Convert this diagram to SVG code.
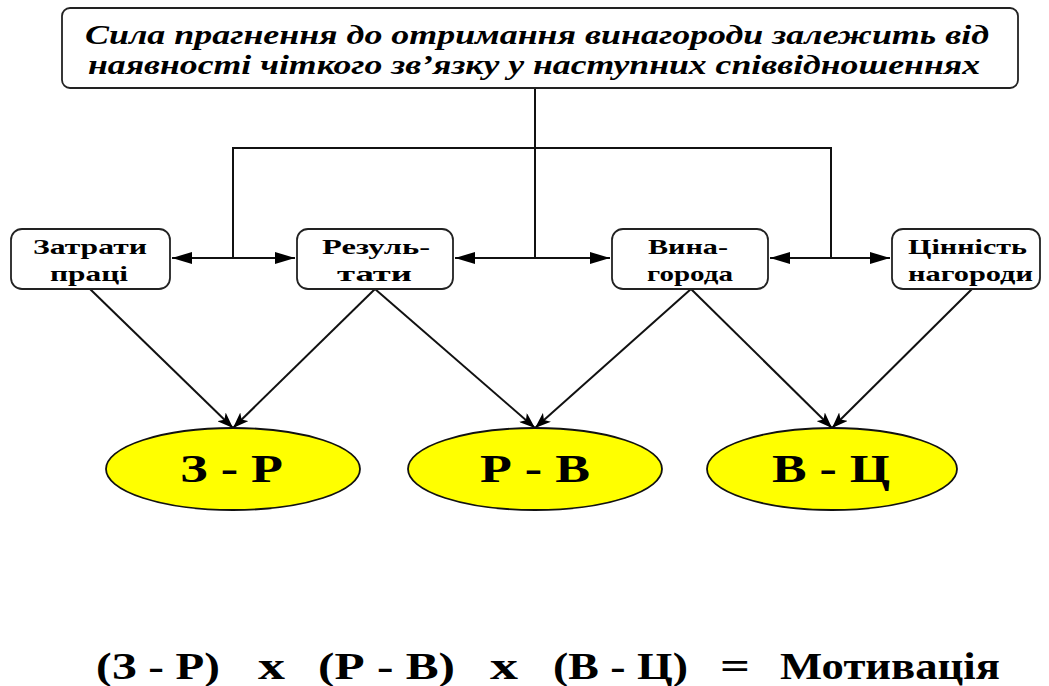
<svg xmlns="http://www.w3.org/2000/svg" width="1049" height="686" viewBox="0 0 1049 686">
  <style>
    .box { fill: #ffffff; stroke: #222222; stroke-width: 1.8; }
    .oval { fill: #ffff00; stroke: #111111; stroke-width: 1.8; }
    .txt { font-family: "Liberation Serif", "Times New Roman", serif; font-weight: bold; fill: #000000; }
    .head { font-style: italic; font-size: 28px; }
    .lbl { font-size: 22px; }
    .big { font-size: 40px; }
    .formula { font-size: 37px; }
    .wire { fill: none; stroke: #111111; stroke-width: 2; }
  </style>
  <defs>
    <marker id="arrow" viewBox="0 0 20 12" refX="20" refY="6" markerWidth="20" markerHeight="12" markerUnits="userSpaceOnUse" orient="auto-start-reverse">
      <path d="M0,0 L20,6 L0,12 Z" fill="#000000"/>
    </marker>
    <marker id="arrowS" viewBox="0 0 16 12" refX="16" refY="6" markerWidth="16" markerHeight="12" markerUnits="userSpaceOnUse" orient="auto">
      <path d="M0,0 L16,6 L0,12 L4,6 Z" fill="#000000"/>
    </marker>
  </defs>

  <!-- connectors -->
  <g id="connectors">
    <path class="wire" d="M535,88 V258"/>
    <path class="wire" d="M233,258 V148 H831 V258"/>
    <line class="wire" x1="172" y1="258" x2="295" y2="258" marker-start="url(#arrow)" marker-end="url(#arrow)"/>
    <line class="wire" x1="455" y1="258" x2="610" y2="258" marker-start="url(#arrow)" marker-end="url(#arrow)"/>
    <line class="wire" x1="770" y1="258" x2="890" y2="258" marker-start="url(#arrow)" marker-end="url(#arrow)"/>
    <line class="wire" x1="90" y1="289" x2="233" y2="428" marker-end="url(#arrowS)"/>
    <line class="wire" x1="375" y1="289" x2="233" y2="428" marker-end="url(#arrowS)"/>
    <line class="wire" x1="375" y1="289" x2="535" y2="428" marker-end="url(#arrowS)"/>
    <line class="wire" x1="691" y1="289" x2="535" y2="428" marker-end="url(#arrowS)"/>
    <line class="wire" x1="691" y1="289" x2="832" y2="428" marker-end="url(#arrowS)"/>
    <line class="wire" x1="972" y1="289" x2="832" y2="428" marker-end="url(#arrowS)"/>
  </g>

  <!-- heading box -->
  <g id="heading">
    <rect class="box" x="62" y="8" width="956" height="80" rx="8"/>
    <text class="txt head" x="85" y="44" textLength="904" lengthAdjust="spacingAndGlyphs">Сила прагнення до отримання винагороди залежить від</text>
    <text class="txt head" x="88" y="74" textLength="892" lengthAdjust="spacingAndGlyphs">наявності чіткого зв’язку у наступних співвідношеннях</text>
  </g>

  <!-- factor boxes -->
  <g id="effort">
    <rect class="box" x="11" y="229" width="159" height="60" rx="11"/>
    <text class="txt lbl" x="33" y="254" textLength="114" lengthAdjust="spacingAndGlyphs">Затрати</text>
    <text class="txt lbl" x="50" y="281" textLength="78" lengthAdjust="spacingAndGlyphs">праці</text>
  </g>
  <g id="results">
    <rect class="box" x="297" y="229" width="156" height="60" rx="11"/>
    <text class="txt lbl" x="322" y="254" textLength="108" lengthAdjust="spacingAndGlyphs">Резуль-</text>
    <text class="txt lbl" x="337" y="281" textLength="75" lengthAdjust="spacingAndGlyphs">тати</text>
  </g>
  <g id="reward">
    <rect class="box" x="612" y="229" width="156" height="60" rx="11"/>
    <text class="txt lbl" x="648" y="254" textLength="80" lengthAdjust="spacingAndGlyphs">Вина-</text>
    <text class="txt lbl" x="647" y="281" textLength="86" lengthAdjust="spacingAndGlyphs">города</text>
  </g>
  <g id="value">
    <rect class="box" x="892" y="229" width="148" height="60" rx="11"/>
    <text class="txt lbl" x="908" y="254" textLength="119" lengthAdjust="spacingAndGlyphs">Цінність</text>
    <text class="txt lbl" x="908" y="281" textLength="125" lengthAdjust="spacingAndGlyphs">нагороди</text>
  </g>

  <!-- relation ovals -->
  <g id="zr">
    <ellipse class="oval" cx="233" cy="469" rx="127" ry="41"/>
    <text class="txt big" x="180" y="482" textLength="103" lengthAdjust="spacingAndGlyphs">З - Р</text>
  </g>
  <g id="rv">
    <ellipse class="oval" cx="535" cy="469" rx="127" ry="41"/>
    <text class="txt big" x="480" y="482" textLength="110" lengthAdjust="spacingAndGlyphs">Р - В</text>
  </g>
  <g id="vc">
    <ellipse class="oval" cx="832" cy="469" rx="125" ry="41"/>
    <text class="txt big" x="772" y="482" textLength="118" lengthAdjust="spacingAndGlyphs">В - Ц</text>
  </g>

  <!-- formula -->
  <g id="formula">
    <text class="txt formula" x="96" y="679" textLength="124" lengthAdjust="spacingAndGlyphs">(З - Р)</text>
    <text class="txt formula" x="258" y="679" textLength="27" lengthAdjust="spacingAndGlyphs">х</text>
    <text class="txt formula" x="318" y="679" textLength="137" lengthAdjust="spacingAndGlyphs">(Р - В)</text>
    <text class="txt formula" x="490" y="679" textLength="28" lengthAdjust="spacingAndGlyphs">х</text>
    <text class="txt formula" x="553" y="679" textLength="135" lengthAdjust="spacingAndGlyphs">(В - Ц)</text>
    <text class="txt formula" x="720" y="679" textLength="30" lengthAdjust="spacingAndGlyphs">=</text>
    <text class="txt formula" x="780" y="679" textLength="220" lengthAdjust="spacingAndGlyphs">Мотивація</text>
  </g>
</svg>
